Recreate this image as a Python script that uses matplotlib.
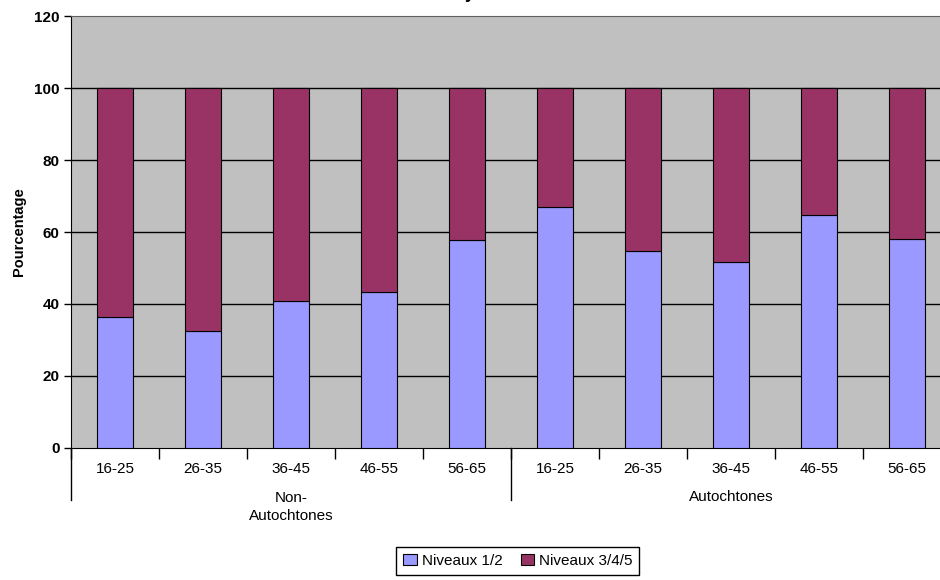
import matplotlib
matplotlib.use('Agg')

import numpy as np
import matplotlib.pyplot as plt
import matplotlib.transforms as mtransforms

plt.rcParams['font.family'] = ['Liberation Sans', 'DejaVu Sans']

# data
ages = ['16-25', '26-35', '36-45', '46-55', '56-65']
groups = ['Non-\nAutochtones', 'Autochtones']
niveaux_12 = [36.4, 32.6, 40.9, 43.3, 57.8, 66.9, 54.7, 51.7, 64.8, 58.0]
niveaux_345 = [100 - v for v in niveaux_12]
yticks = [0, 20, 40, 60, 80, 100, 120]

blue = '#9999FF'
maroon = '#993366'

fig = plt.figure(figsize=(9.4, 5.8), dpi=100)
ax = fig.add_axes([0.0755, 0.2276, 0.936, 0.7448])
ax.set_facecolor('#C0C0C0')

x = np.arange(len(niveaux_12))
ax.bar(x, niveaux_12, width=0.41, color=blue, edgecolor='black', linewidth=0.8,
       label='Niveaux 1/2', zorder=3)
ax.bar(x, niveaux_345, width=0.41, bottom=niveaux_12, color=maroon, edgecolor='black',
       linewidth=0.8, label='Niveaux 3/4/5', zorder=3)

ax.set_xlim(-0.5, len(x) - 0.5)
ax.set_ylim(0, 120)
ax.set_yticks(yticks)
ax.set_yticklabels([str(t) for t in yticks], fontweight='bold', fontsize=11)
ax.tick_params(axis='y', length=5, width=1, pad=3)
for t in yticks[1:-1]:
    ax.axhline(t, color='black', linewidth=1, zorder=1)

# category labels at centres, boundary tick marks as minor ticks
ax.set_xticks(x)
ax.set_xticklabels(ages * len(groups), fontsize=11)
ax.set_xticks(np.arange(-0.5, len(x), 1), minor=True)
ax.tick_params(axis='x', which='major', length=0, pad=10)
ax.tick_params(axis='x', which='minor', length=8, width=1)

ax.set_ylabel('Pourcentage', fontweight='bold', fontsize=10.5, labelpad=6)

for side in ['left', 'bottom']:
    ax.spines[side].set_color('black')
ax.spines['top'].set_color('#606060')
ax.spines['right'].set_visible(False)

# group separators and group labels
trans = mtransforms.blended_transform_factory(ax.transData, ax.transAxes)
n = len(ages)
for b in [-0.5, n - 0.5, 2 * n - 0.5]:
    ax.plot([b, b], [0, -0.12], color='black', linewidth=1, transform=trans, clip_on=False)
for i, g in enumerate(groups):
    ypos = -0.137 if '\n' in g else -0.113
    ax.text(i * n + (n - 1) / 2, ypos, g, transform=trans, ha='center', va='center',
            fontsize=11, linespacing=1.35)

# clipped title remnant at the very top
fig.text(0.5, 1.004, 'y', ha='center', va='baseline', fontsize=13, fontweight='bold')

fig.legend(loc='upper center', bbox_to_anchor=(0.551, 0.057), ncol=2, fontsize=11,
           frameon=True, fancybox=False, edgecolor='black', framealpha=1,
           handlelength=0.9, handleheight=0.7, handletextpad=0.3, columnspacing=1.2,
           borderaxespad=0, borderpad=0.45)

fig.savefig('out.png', dpi=100)
